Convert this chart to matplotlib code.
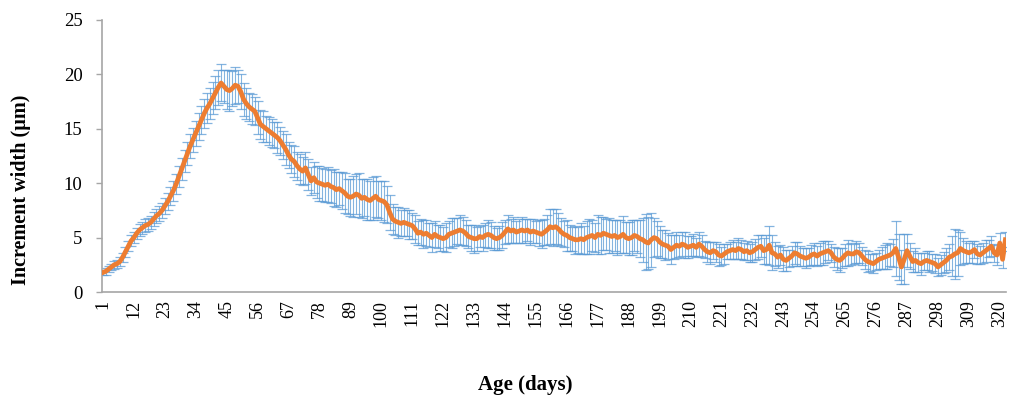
import numpy as np
import matplotlib
matplotlib.use("Agg")
import matplotlib.pyplot as plt

# Mean daily increment width (µm) by age, days 1..322
mean_width = [
    1.8, 1.9, 2.1, 2.3, 2.5, 2.6, 2.8, 3.2, 3.7, 4.2,
    4.7, 5.0, 5.4, 5.7, 5.9, 6.1, 6.2, 6.4, 6.7, 7.0,
    7.2, 7.5, 7.9, 8.3, 8.8, 9.3, 9.9, 10.6, 11.3, 12.0,
    12.7, 13.4, 14.0, 14.6, 15.2, 15.8, 16.4, 16.9, 17.3, 17.8,
    18.3, 18.8, 19.2, 18.9, 18.6, 18.5, 18.7, 19.0, 18.9, 18.4,
    17.7, 17.3, 17.0, 16.8, 16.6, 16.0, 15.4, 15.2, 15.0, 14.8,
    14.6, 14.4, 14.2, 13.9, 13.5, 13.1, 12.6, 12.2, 12.0, 11.6,
    11.3, 11.1, 11.4, 10.8, 10.2, 10.5, 10.1, 10.0, 9.9, 9.8,
    9.9, 9.7, 9.6, 9.4, 9.5, 9.3, 9.1, 8.8, 8.7, 8.8,
    9.0, 8.9, 8.6, 8.7, 8.5, 8.4, 8.6, 8.8, 8.5, 8.4,
    8.3, 8.0, 7.3, 6.7, 6.5, 6.4, 6.3, 6.4, 6.3, 6.2,
    6.1, 5.8, 5.4, 5.5, 5.3, 5.4, 5.2, 5.0, 5.3, 5.1,
    5.0, 4.9, 5.0, 5.3, 5.4, 5.5, 5.6, 5.7, 5.6, 5.4,
    5.1, 5.0, 4.9, 4.9, 5.1, 5.0, 5.2, 5.3, 5.2, 5.0,
    4.9, 5.0, 5.2, 5.5, 5.8, 5.6, 5.7, 5.5, 5.6, 5.7,
    5.6, 5.7, 5.5, 5.6, 5.5, 5.4, 5.3, 5.5, 5.7, 6.0,
    5.9, 6.0, 5.8, 5.5, 5.3, 5.2, 5.0, 4.9, 4.8, 4.8,
    4.9, 4.8, 5.0, 5.1, 5.2, 5.0, 5.3, 5.2, 5.4, 5.3,
    5.2, 5.1, 5.2, 5.0, 5.1, 5.3, 5.0, 4.9, 5.0, 5.2,
    5.1, 4.9, 4.8, 4.6, 4.5, 4.8, 5.0, 4.9, 4.6, 4.4,
    4.3, 4.2, 3.9, 4.1, 4.3, 4.2, 4.4, 4.3, 4.1, 4.2,
    4.3, 4.1, 4.4, 4.2, 3.9, 3.7, 3.6, 3.8, 3.7, 3.4,
    3.3, 3.5, 3.7, 3.8, 3.9, 3.8, 4.0, 3.9, 3.7, 3.8,
    3.6, 3.7, 3.9, 4.1, 4.2, 3.8, 3.9, 4.3, 3.6, 3.5,
    3.2, 3.4, 3.0, 2.9, 3.1, 3.3, 3.6, 3.5, 3.3, 3.2,
    3.1, 3.2, 3.4, 3.5, 3.3, 3.5, 3.6, 3.7, 3.8, 3.6,
    3.2, 3.0, 2.9, 3.1, 3.4, 3.6, 3.5, 3.5, 3.7, 3.6,
    3.3, 3.0, 2.8, 2.7, 2.6, 2.8, 3.0, 3.1, 3.2, 3.3,
    3.4, 3.6, 4.0, 3.2, 2.3, 3.0, 3.8, 3.3, 2.8, 2.9,
    2.7, 2.6, 2.8, 2.9, 2.8, 2.7, 2.6, 2.3, 2.5, 2.7,
    2.9, 3.2, 3.3, 3.5, 3.6, 4.0, 3.8, 3.7, 3.6, 3.7,
    3.9, 3.5, 3.4, 3.6, 3.8, 4.0, 4.2, 3.6, 3.4, 4.5,
    3.0, 4.8,
]

# Error bar half-lengths (µm) for each day
err_width = [
    0.25, 0.3, 0.3, 0.3, 0.35, 0.35, 0.4, 0.4, 0.45, 0.45,
    0.5, 0.5, 0.5, 0.55, 0.55, 0.6, 0.6, 0.6, 0.65, 0.65,
    0.7, 0.7, 0.75, 0.8, 0.85, 0.9, 0.9, 0.95, 1.0, 1.0,
    1.05, 1.1, 1.1, 1.15, 1.2, 1.25, 1.3, 1.35, 1.4, 1.45,
    1.5, 1.6, 1.7, 1.5, 1.8, 1.9, 1.6, 1.7, 1.5, 1.6,
    1.5, 1.4, 1.3, 1.4, 1.3, 1.5, 1.3, 1.4, 1.2, 1.3,
    1.3, 1.2, 1.4, 1.3, 1.3, 1.4, 1.2, 1.3, 1.4, 1.3,
    1.4, 1.3, 1.5, 1.4, 1.3, 1.4, 1.5, 1.6, 1.5, 1.5,
    1.6, 1.5, 1.7, 1.6, 1.5, 1.7, 1.8, 1.6, 1.7, 1.9,
    1.8, 2.0, 1.8, 1.7, 1.9, 1.8, 2.0, 1.9, 1.7, 1.8,
    1.9, 1.7, 1.6, 1.4, 1.3, 1.4, 1.2, 1.3, 1.2, 1.3,
    1.2, 1.3, 1.1, 1.2, 1.3, 1.2, 1.1, 1.3, 1.2, 1.1,
    1.2, 1.1, 1.3, 1.2, 1.4, 1.3, 1.2, 1.4, 1.3, 1.2,
    1.1, 1.2, 1.3, 1.1, 1.0, 1.2, 1.1, 1.3, 1.2, 1.1,
    1.0, 1.1, 1.2, 1.1, 1.3, 1.1, 1.2, 1.0, 1.1, 1.2,
    1.1, 1.0, 1.2, 1.1, 1.0, 1.2, 1.3, 1.2, 1.4, 1.6,
    1.7, 1.6, 1.5, 1.3, 1.2, 1.4, 1.2, 1.1, 1.3, 1.2,
    1.4, 1.3, 1.5, 1.6, 1.4, 1.3, 1.8, 1.7, 1.5, 1.4,
    1.6, 1.5, 1.4, 1.6, 1.5, 1.7, 1.4, 1.5, 1.6, 1.4,
    1.5, 1.7, 2.0, 2.6, 2.4, 2.5, 1.8, 1.6, 1.5, 1.3,
    1.4, 1.2, 1.3, 1.1, 1.2, 1.0, 1.1, 1.2, 1.0, 0.9,
    1.0, 0.9, 1.1, 1.0, 0.8, 0.9, 1.0, 0.8, 0.9, 1.0,
    0.8, 0.9, 0.7, 0.8, 0.9, 0.8, 1.0, 0.9, 0.8, 0.9,
    0.8, 0.9, 1.0, 1.1, 1.0, 1.2, 1.3, 1.8, 1.6, 1.1,
    1.0, 0.9, 1.1, 1.0, 0.8, 0.9, 1.0, 1.1, 0.9, 0.8,
    0.9, 0.8, 0.9, 1.0, 0.9, 1.0, 1.1, 1.0, 0.9, 0.8,
    0.9, 1.0, 1.1, 0.9, 1.0, 1.2, 1.0, 0.9, 1.0, 0.9,
    0.8, 0.9, 1.0, 0.8, 0.9, 0.8, 0.9, 1.0, 1.1, 1.2,
    1.0, 1.3, 2.5, 2.1, 1.6, 2.3, 1.5, 1.2, 1.0, 1.1,
    0.9, 1.0, 0.8, 0.9, 1.0, 0.8, 0.9, 0.8, 0.9, 1.0,
    1.1, 1.2, 1.8, 2.3, 2.1, 1.5, 1.2, 1.0, 0.9, 1.0,
    0.8, 0.9, 0.8, 0.9, 1.0, 0.8, 0.9, 0.8, 0.9, 0.9,
    0.8, 0.7,
]

tick_days = list(range(1, 321, 11))
y_ticks = [0, 5, 10, 15, 20, 25]

days = np.arange(1, len(mean_width) + 1)

plt.rcParams['font.family'] = ['Liberation Serif', 'DejaVu Serif']

fig = plt.figure(figsize=(10.1, 4.05), dpi=100)
ax = fig.add_axes([0.101, 0.279, 0.895, 0.672])

ax.errorbar(days, mean_width, yerr=err_width, fmt='none',
            ecolor='#5B9BD5', elinewidth=0.8, capsize=3.6, capthick=0.9,
            alpha=0.75, zorder=2)
ax.plot(days, mean_width, color='#ED7D31', linewidth=3.4,
        solid_joinstyle='round', zorder=3)

ax.set_xlim(0.65, 322.2)
ax.set_ylim(0, 25)
ax.set_xticks(tick_days)
ax.set_xticklabels([str(d) for d in tick_days], rotation=90, fontsize=13)
ax.set_yticks(y_ticks)
ax.set_yticklabels([str(v) for v in y_ticks], fontsize=13.5)

ax.tick_params(axis='x', length=0, pad=6)
ax.tick_params(axis='y', length=4, width=1, color='#A6A6A6', pad=10)

for side in ('top', 'right'):
    ax.spines[side].set_visible(False)
for side in ('left', 'bottom'):
    ax.spines[side].set_color('#A6A6A6')
    ax.spines[side].set_linewidth(1.2)

ax.set_ylabel('Increment width (µm)', fontsize=14.5, fontweight='bold')
ax.yaxis.set_label_coords(-0.079, 0.375)
ax.set_xlabel('Age (days)', fontsize=15, fontweight='bold')
ax.xaxis.set_label_coords(0.468, -0.305)

fig.savefig('out.png', dpi=100)
